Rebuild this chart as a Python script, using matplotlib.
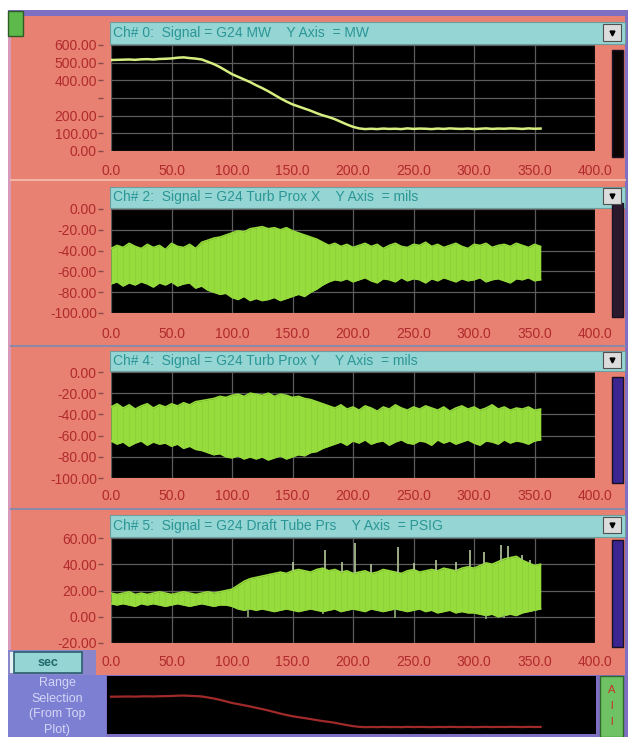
import numpy as np
import matplotlib
matplotlib.use("Agg")
import matplotlib.pyplot as plt
from matplotlib.patches import Rectangle
from matplotlib.lines import Line2D

W, H = 628, 737

# sample times of the stored traces (seconds)
t = np.arange(0, 360, 5)

# Ch# 0 : G24 MW
mw = [515, 516, 517, 518, 516, 519, 520, 518, 521, 522, 524, 528, 530, 526, 523,
      518, 505, 492, 475, 455, 435, 420, 405, 390, 372, 356, 338, 318, 298, 280,
      264, 252, 240, 228, 214, 202, 192, 180, 165, 150, 137, 128, 124, 126,
      124, 127, 125, 126, 124, 128, 125, 127, 126, 124, 127, 125, 128, 126,
      125, 127, 124, 126, 128, 125, 127, 126, 128, 127, 125, 128, 126, 127]

# Ch# 2 : G24 Turb Prox X (band top / bottom, mils)
prox_x_hi = [-38, -35, -37, -33, -36, -38, -34, -37, -35, -39, -33, -36, -37, -34, -38, -32,
             -30, -28, -27, -25, -23, -21, -22, -19,
             -18, -17, -19, -18, -20, -18, -21, -23, -25, -27, -29,
             -32, -35, -33, -36, -34, -37, -35, -33, -36, -34, -38, -35, -33, -36, -37,
             -34, -35, -32, -36, -34, -37, -35, -33, -36, -38, -34, -35, -33, -37, -35,
             -34, -36, -33, -35, -37, -34, -36]
prox_x_lo = [-72, -70, -74, -71, -73, -70, -72, -75, -71, -73, -70, -74, -72, -71, -76, -74,
             -78, -80, -82, -81, -85, -87, -84, -88,
             -86, -88, -87, -85, -88, -86, -84, -82, -84, -80, -77,
             -73, -70, -68, -69, -67, -70, -68, -66, -69, -71, -67, -68, -70, -66, -69,
             -67, -68, -71, -67, -69, -66, -68, -70, -67, -69, -68, -66, -70, -68, -67,
             -69, -71, -67, -68, -66, -69, -68]

# Ch# 4 : G24 Turb Prox Y (band top / bottom, mils)
prox_y_hi = [-33, -30, -34, -31, -35, -32, -30, -34, -31, -33, -30, -32, -29, -31, -28, -27,
             -26, -25, -23, -24, -22, -21, -23, -20,
             -21, -22, -20, -23, -21, -22, -24, -23, -25, -26, -28,
             -30, -32, -34, -31, -35, -33, -36, -32, -34, -37, -33, -35, -31, -34, -36,
             -33, -35, -32, -34, -36, -33, -37, -34, -32, -35, -33, -36, -34, -31, -35,
             -33, -36, -34, -35, -33, -36, -35]
prox_y_lo = [-65, -68, -66, -70, -67, -65, -69, -66, -68, -67, -70, -68, -72, -70, -73, -74,
             -76, -78, -77, -80, -81, -79, -82, -80,
             -82, -80, -83, -81, -79, -82, -80, -78, -79, -76, -75,
             -72, -70, -68, -66, -69, -65, -67, -64, -68, -66, -65, -69, -66, -64, -67,
             -68, -65, -66, -69, -64, -67, -65, -68, -66, -64, -67, -69, -65, -66, -68,
             -64, -67, -65, -66, -68, -65, -64]

# Ch# 5 : G24 Draft Tube Prs (band top / bottom, PSIG)
draft_hi = [18, 17, 18, 19, 17, 18, 17, 18, 19, 18, 17, 18, 19, 18, 17, 18, 19, 18, 19, 20,
            21, 24, 27, 29, 30, 31, 32, 33, 34, 33, 35, 36, 35, 34, 36, 37,
            35, 36, 34, 35, 33, 34, 35, 33, 34, 36, 35, 34, 33, 35, 36, 34, 35, 36, 35, 37,
            36, 35, 37, 38,
            37, 39, 41, 40, 42, 44, 45, 46, 43, 41, 39, 40]
draft_lo = [10, 9, 10, 9, 8, 10, 9, 10, 9, 8, 9, 10, 9, 8, 9, 10, 9, 8, 9, 9,
            8, 6, 5, 6, 5, 6, 5, 4, 5, 6, 5, 4, 5, 6, 5, 4,
            5, 6, 4, 5, 6, 5, 4, 6, 5, 4, 5, 6, 5, 4, 5, 6, 4, 5, 3, 4, 5, 3, 4, 3,
            3, 2, 1, 2, 0, 1, 2, 1, 3, 4, 5, 6]
draft_spike_t = [150, 177, 191, 202, 215, 237, 250, 269, 285, 297, 308, 322, 328, 340, 346]
draft_spike_v = [42, 51, 42, 56, 40, 53, 41, 43, 42, 51, 49, 55, 54, 47, 43]
draft_dip_t = [113, 175, 235, 310, 325]
draft_dip_v = [0, 2, -1, -2, -1]

x_ticks = [0, 50, 100, 150, 200, 250, 300, 350, 400]
x_labels = ["0.0", "50.0", "100.0", "150.0", "200.0", "250.0", "300.0", "350.0", "400.0"]

titles = ["Ch# 0:  Signal = G24 MW    Y Axis  = MW",
          "Ch# 2:  Signal = G24 Turb Prox X    Y Axis  = mils",
          "Ch# 4:  Signal = G24 Turb Prox Y    Y Axis  = mils",
          "Ch# 5:  Signal = G24 Draft Tube Prs    Y Axis  = PSIG"]
y_ticks = [[0, 100, 200, 300, 400, 500, 600],
           [-100, -80, -60, -40, -20, 0],
           [-100, -80, -60, -40, -20, 0],
           [-20, 0, 20, 40, 60]]
y_labels = [["0.00", "100.00", "200.00", "", "400.00", "500.00", "600.00"],
            ["-100.00", "-80.00", "-60.00", "-40.00", "-20.00", "0.00"],
            ["-100.00", "-80.00", "-60.00", "-40.00", "-20.00", "0.00"],
            ["-20.00", "0.00", "20.00", "40.00", "60.00"]]
y_limits = [(0, 600), (-100, 0), (-100, 0), (-20, 60)]

SALMON = "#e88171"
CYAN = "#95d5d3"
TEAL_TXT = "#2a9696"
TICK_TXT = "#b02a2e"
PURPLE = "#7f6fc2"
GREEN = "#95dc3c"
FONT = "Liberation Sans"

fig = plt.figure(figsize=(W / 100, H / 100), dpi=100)
fig.patch.set_facecolor("white")


def fbox(x0, y0, x1, y1):
    return [x0 / W, 1 - y1 / H, (x1 - x0) / W, (y1 - y0) / H]


def rect(x0, y0, x1, y1, fc, ec="none", lw=0.0, z=-5):
    fig.add_artist(Rectangle((x0 / W, 1 - y1 / H), (x1 - x0) / W, (y1 - y0) / H,
                             transform=fig.transFigure, facecolor=fc,
                             edgecolor=ec, linewidth=lw, zorder=z))


def hline(x0, x1, y, color, lw=1.0, z=-4):
    fig.add_artist(Line2D([x0 / W, x1 / W], [1 - y / H, 1 - y / H],
                          transform=fig.transFigure, color=color, lw=lw, zorder=z))


def ftext(x, y, s, **kw):
    kw.setdefault("family", FONT)
    fig.text(x / W, 1 - y / H, s, **kw)


# window frame
rect(8, 10, 628, 737, PURPLE, z=-6)
rect(8, 16, 625, 675, SALMON)
rect(8, 16, 11, 675, "#d89ab8", z=-4)
rect(8, 11, 23, 36, "#5cb94a", ec="#2f5a25", lw=1.0, z=2)

# panel separators
hline(11, 625, 180, "#f2b4a4", lw=1.5)
hline(11, 625, 346, "#8c88a8", lw=1.5)
hline(11, 625, 509, "#8c88a8", lw=1.5)

panel_boxes = [(111, 45, 595, 151), (111, 209, 595, 313),
               (111, 372, 595, 478), (111, 538, 595, 643)]
title_rows = [(22, 44), (187, 208), (351, 371), (515, 537)]
drop_boxes = [(603, 24, 621, 41), (603, 188, 621, 204), (603, 352, 621, 368), (603, 517, 621, 533)]
side_bars = [(612, 50, 623, 157), (612, 203, 623, 317), (612, 377, 623, 483), (612, 540, 623, 647)]
side_colors = ["#0a0505", "#2b1a2e", "#3b2590", "#3b2590"]
label_gaps = [13, 14, 11, 12]

axes = []
for i in range(4):
    x0, y0, x1, y1 = panel_boxes[i]
    ax = fig.add_axes(fbox(x0, y0, x1, y1))
    ax.set_facecolor("black")
    ax.set_xlim(0, 400)
    ax.set_ylim(*y_limits[i])
    ax.set_xticks(x_ticks)
    ax.set_xticklabels(x_labels)
    ax.set_yticks(y_ticks[i])
    ax.set_yticklabels(y_labels[i])
    for s in ax.spines.values():
        s.set_visible(False)
    ax.spines["left"].set_position(("outward", 8 * 0.72))
    ax.tick_params(axis="x", length=0, pad=label_gaps[i] * 0.72,
                   labelsize=10, labelcolor=TICK_TXT)
    ax.tick_params(axis="y", length=5 * 0.72, width=1.0, color="#8a4a4a",
                   pad=1 * 0.72, labelsize=10, labelcolor=TICK_TXT)
    for lab in ax.get_xticklabels() + ax.get_yticklabels():
        lab.set_family(FONT)
    ax.grid(True, color="#5c5c5c", lw=0.9)
    ax.set_axisbelow(True)
    axes.append(ax)

    ty0, ty1 = title_rows[i]
    rect(110, ty0, 625, ty1, CYAN, ec="#6f9c9c", lw=0.8, z=1)
    ftext(113, (ty0 + ty1) / 2, titles[i], fontsize=10, color=TEAL_TXT,
          va="center", ha="left", zorder=3)
    dx0, dy0, dx1, dy1 = drop_boxes[i]
    rect(dx0, dy0, dx1, dy1, "#dcdcdc", ec="#505050", lw=0.8, z=2)
    fig.add_artist(Line2D([(dx0 + dx1) / 2 / W], [1 - (dy0 + dy1) / 2 / H], marker="v",
                          markersize=3.5, color="black", transform=fig.transFigure,
                          zorder=3, linestyle="none"))
    sx0, sy0, sx1, sy1 = side_bars[i]
    rect(sx0, sy0, sx1, sy1, side_colors[i], ec="#1a1024", lw=1.0, z=1)

# Ch# 0 trace
axes[0].plot(t, mw, color="#d6ef80", lw=1.8)

# vibration / pressure bands
bands = [(axes[1], prox_x_lo, prox_x_hi), (axes[2], prox_y_lo, prox_y_hi),
         (axes[3], draft_lo, draft_hi)]
for ax, lo, hi in bands:
    ax.fill_between(t, lo, hi, color=GREEN, lw=0, zorder=3)
    ax.plot(t, hi, color=GREEN, lw=1.2, zorder=3)
    ax.plot(t, lo, color=GREEN, lw=1.2, zorder=3)
    ax.vlines(t, lo, hi, color="#7cbc34", lw=0.6, alpha=0.35, zorder=4)

axes[3].vlines(draft_spike_t, np.interp(draft_spike_t, t, draft_hi), draft_spike_v,
               color="#b5c89a", lw=1.2, zorder=3)
axes[3].vlines(draft_dip_t, draft_dip_v, np.interp(draft_dip_t, t, draft_lo),
               color="#8fb070", lw=1.2, zorder=3)

# time unit button
rect(8, 650, 96, 675, "#8a86cc", z=-3)
rect(10, 652, 14, 673, "#e6f2f2", z=1)
rect(14, 652, 82, 673, CYAN, ec="#2b5f70", lw=1.2, z=1)
ftext(48, 663, "sec", fontsize=9, color="#1f6a6a", weight="bold",
      ha="center", va="center", zorder=3)

# range selection strip
rect(8, 675, 106, 737, "#7c7fd2", z=-3)
for k, line in enumerate(["Range", "Selection", "(From Top", "Plot)"]):
    ftext(57, 683 + 15.5 * k, line, fontsize=9, color="#d4d6f6",
          ha="center", va="center", zorder=3)

axr = fig.add_axes(fbox(107, 676, 596, 734))
axr.set_facecolor("black")
axr.set_xlim(-3.3, 400.8)
axr.set_ylim(36, 781)
axr.set_xticks([])
axr.set_yticks([])
for s in axr.spines.values():
    s.set_visible(False)
axr.plot(t, mw, color="#a02a2a", lw=1.6)

rect(600, 676, 623, 737, "#6fc263", ec="#2f6a2a", lw=1.0, z=1)
for k, ch in enumerate(["A", "l", "l"]):
    ftext(611.5, 690 + 16 * k, ch, fontsize=8, color="#c8302c",
          ha="center", va="center", zorder=3)

fig.savefig("out.png", dpi=100, facecolor=fig.get_facecolor())
